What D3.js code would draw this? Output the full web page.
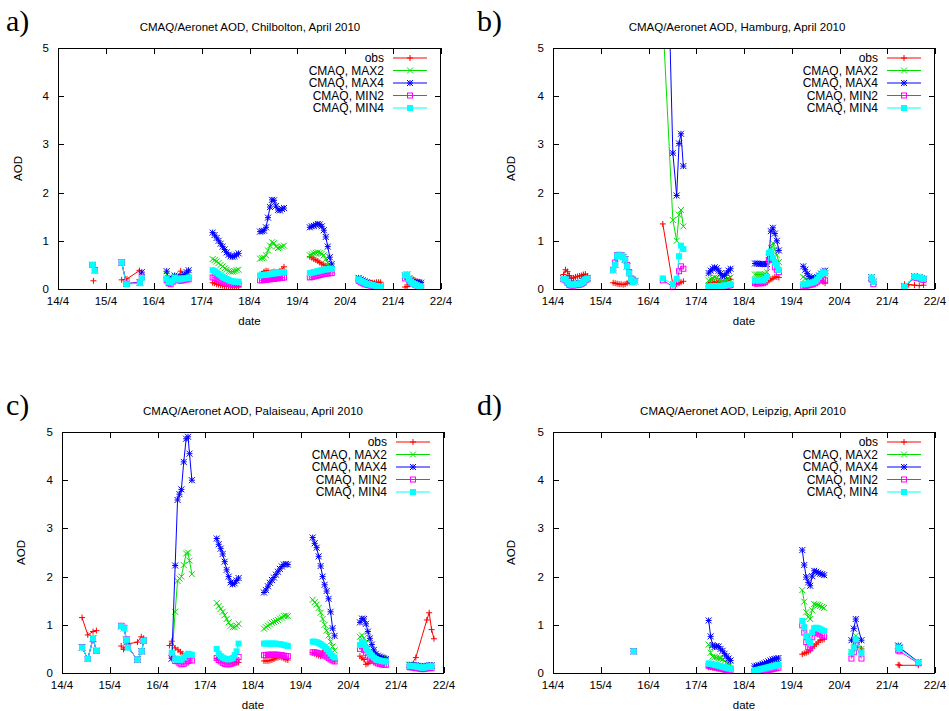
<!DOCTYPE html>
<html>
<head>
<meta charset="utf-8">
<script src="https://cdn.jsdelivr.net/npm/d3@7"></script>
<style>
  body { margin: 0; background: #fff; }
  svg { display: block; font-family: "Liberation Sans", Arial, sans-serif; }
</style>
</head>
<body>
<svg id="chart" width="949" height="711"></svg>
<script>
// x axis runs over days of April 2010, y is AOD
const xTicks = [14, 15, 16, 17, 18, 19, 20, 21, 22];
const xTickLabels = ["14/4", "15/4", "16/4", "17/4", "18/4", "19/4", "20/4", "21/4", "22/4"];
const yTicks = [0, 1, 2, 3, 4, 5];
const seriesNames = ["obs", "CMAQ, MAX2", "CMAQ, MAX4", "CMAQ, MIN2", "CMAQ, MIN4"];
const seriesColors = ["#ff0000", "#00e000", "#0000ff", "#ff00ff", "#00ffff"];
const seriesMarkers = ["plus", "cross", "star", "square", "filledSquare"];
const stations = ["Chilbolton", "Hamburg", "Palaiseau", "Leipzig"];
const panelLabels = ["a)", "b)", "c)", "d)"];

// a segment is either [startDay, [hourly values]] or [[days], [values]]
const HOUR = 1 / 24;

// ---- Chilbolton ----
const chilboltonObs = [
  [[14.74], [0.17]],
  [[15.33, 15.44, 15.7], [0.19, 0.21, 0.38]],
  [16.27, [0.26, 0.22, 0.2, 0.25, 0.27, 0.25, 0.26, 0.37, 0.3, 0.25, 0.24, 0.22]],
  [17.23, [0.13, 0.12, 0.1, 0.09, 0.08, 0.07, 0.06, 0.06, 0.05, 0.05, 0.05, 0.05, 0.05, 0.05]],
  [18.22, [0.3, 0.32, 0.36, 0.38, 0.37, 0.34, 0.35, 0.36, 0.35, 0.35, 0.37, 0.41, 0.46]],
  [19.26, [0.67, 0.65, 0.62, 0.6, 0.58, 0.55, 0.52, 0.5, 0.48, 0.47, 0.47, 0.46]],
  [20.28, [0.2, 0.18, 0.16, 0.15, 0.14, 0.13, 0.13, 0.13, 0.13, 0.14, 0.14, 0.14]],
  [21.25, [0.04, 0.05, 0.1, 0.15, 0.2, 0.18, 0.16, 0.15, 0.14]]
];
const chilboltonMax2 = [
  [[14.72, 14.77], [0.5, 0.39]],
  [[15.33, 15.43, 15.71, 15.75], [0.55, 0.11, 0.13, 0.26]],
  [16.27, [0.3, 0.2, 0.17, 0.2, 0.25, 0.24, 0.23, 0.22, 0.24, 0.27, 0.3, 0.33]],
  [17.23, [0.62, 0.6, 0.57, 0.54, 0.5, 0.47, 0.43, 0.4, 0.37, 0.36, 0.36, 0.37, 0.39, 0.4]],
  [18.22, [0.63, 0.64, 0.65, 0.7, 0.8, 0.9, 0.97, 0.95, 0.88, 0.85, 0.86, 0.88, 0.9]],
  [19.26, [0.7, 0.72, 0.74, 0.75, 0.76, 0.75, 0.73, 0.7, 0.62, 0.55, 0.45, 0.38]],
  [20.28, [0.21, 0.18, 0.16, 0.14, 0.12, 0.11, 0.1, 0.09, 0.08, 0.07, 0.06, 0.05]],
  [21.25, [0.27, 0.29, 0.2, 0.16, 0.13, 0.12, 0.11, 0.1, 0.09]]
];
const chilboltonMax4 = [
  [[14.72, 14.77], [0.5, 0.39]],
  [[15.33, 15.43, 15.71, 15.75], [0.55, 0.11, 0.14, 0.35]],
  [16.27, [0.37, 0.22, 0.18, 0.22, 0.28, 0.25, 0.24, 0.22, 0.25, 0.3, 0.35, 0.39]],
  [17.23, [1.17, 1.12, 1.06, 1.0, 0.94, 0.88, 0.82, 0.76, 0.71, 0.68, 0.67, 0.68, 0.71, 0.74]],
  [18.22, [1.19, 1.2, 1.21, 1.28, 1.48, 1.7, 1.85, 1.84, 1.72, 1.64, 1.63, 1.66, 1.68]],
  [19.26, [1.28, 1.3, 1.31, 1.33, 1.35, 1.34, 1.3, 1.22, 1.08, 0.88, 0.66, 0.52]],
  [20.28, [0.23, 0.2, 0.18, 0.16, 0.14, 0.12, 0.1, 0.09, 0.08, 0.07, 0.06, 0.05]],
  [21.25, [0.28, 0.3, 0.22, 0.18, 0.15, 0.14, 0.14, 0.13, 0.13]]
];
const chilboltonMin2 = [
  [[14.72, 14.77], [0.5, 0.39]],
  [[15.33, 15.43, 15.71, 15.75], [0.55, 0.11, 0.13, 0.24]],
  [16.27, [0.18, 0.12, 0.1, 0.15, 0.2, 0.2, 0.18, 0.17, 0.18, 0.19, 0.2, 0.2]],
  [17.23, [0.24, 0.23, 0.21, 0.19, 0.17, 0.15, 0.13, 0.12, 0.11, 0.1, 0.09, 0.09, 0.09, 0.09]],
  [18.22, [0.18, 0.18, 0.19, 0.19, 0.2, 0.2, 0.21, 0.21, 0.22, 0.22, 0.23, 0.23, 0.24]],
  [19.26, [0.24, 0.25, 0.26, 0.27, 0.28, 0.29, 0.3, 0.31, 0.32, 0.32, 0.33, 0.33]],
  [20.28, [0.17, 0.14, 0.12, 0.1, 0.09, 0.08, 0.07, 0.06, 0.05, 0.05, 0.04, 0.04]],
  [21.25, [0.22, 0.25, 0.18, 0.14, 0.11, 0.09, 0.07, 0.05, 0.04]]
];
const chilboltonMin4 = [
  [[14.72, 14.77], [0.5, 0.38]],
  [[15.33, 15.43, 15.71, 15.75], [0.55, 0.1, 0.12, 0.23]],
  [16.27, [0.22, 0.15, 0.14, 0.18, 0.24, 0.22, 0.2, 0.2, 0.22, 0.22, 0.22, 0.24]],
  [17.23, [0.39, 0.37, 0.34, 0.31, 0.28, 0.25, 0.23, 0.21, 0.19, 0.17, 0.16, 0.15, 0.15, 0.15]],
  [18.22, [0.28, 0.29, 0.29, 0.3, 0.3, 0.31, 0.32, 0.32, 0.33, 0.33, 0.34, 0.34, 0.35]],
  [19.26, [0.33, 0.34, 0.35, 0.36, 0.37, 0.38, 0.39, 0.4, 0.41, 0.41, 0.42, 0.42]],
  [20.28, [0.2, 0.17, 0.15, 0.13, 0.11, 0.1, 0.09, 0.08, 0.07, 0.06, 0.05, 0.05]],
  [21.25, [0.28, 0.3, 0.2, 0.15, 0.12, 0.1, 0.08, 0.06, 0.05]]
];

// ---- Hamburg ----
const hamburgObs = [
  [14.22, [0.3, 0.4, 0.36, 0.28, 0.22, 0.23, 0.25, 0.26, 0.27, 0.28, 0.3, 0.31, 0.27]],
  [15.26, [0.13, 0.12, 0.11, 0.1, 0.1, 0.09, 0.1, 0.12, 0.15, 0.18, 0.2, 0.2]],
  [[16.3, 16.51, 16.59, 16.64, 16.68, 16.73], [1.35, 0.09, 0.1, 0.12, 0.14, 0.16]],
  [17.26, [0.12, 0.13, 0.14, 0.15, 0.15, 0.14, 0.13, 0.13, 0.15, 0.17, 0.18, 0.2]],
  [18.23, [0.1, 0.1, 0.11, 0.12, 0.13, 0.14, 0.15, 0.17, 0.2, 0.22, 0.25, 0.25, 0.24]],
  [19.24, [0.08, 0.08, 0.09, 0.1, 0.11, 0.12, 0.14, 0.16, 0.18, 0.17, 0.15, 0.12]],
  [[21.36, 21.45, 21.57, 21.67, 21.76], [0.1, 0.09, 0.08, 0.07, 0.08]]
];
const hamburgMax2 = [
  [14.22, [0.22, 0.21, 0.16, 0.11, 0.1, 0.1, 0.11, 0.11, 0.12, 0.13, 0.16, 0.21, 0.23]],
  [15.26, [0.39, 0.5, 0.68, 0.7, 0.69, 0.66, 0.61, 0.47, 0.33, 0.2, 0.14, 0.16]],
  [[16.3, 16.51, 16.59, 16.64, 16.68, 16.73], [5.6, 1.43, 1.0, 1.54, 1.64, 1.3]],
  [17.26, [0.18, 0.2, 0.22, 0.24, 0.23, 0.2, 0.18, 0.16, 0.17, 0.2, 0.22, 0.24]],
  [18.23, [0.3, 0.3, 0.3, 0.3, 0.3, 0.31, 0.35, 0.6, 0.85, 0.95, 0.82, 0.7, 0.56]],
  [19.24, [0.25, 0.22, 0.19, 0.17, 0.16, 0.16, 0.17, 0.19, 0.22, 0.27, 0.3, 0.32]],
  [[20.67, 20.71], [0.24, 0.15]],
  [[21.36, 21.57, 21.62, 21.67, 21.72, 21.76], [0.05, 0.26, 0.25, 0.24, 0.22, 0.21]]
];
const hamburgMax4 = [
  [14.22, [0.22, 0.21, 0.16, 0.11, 0.1, 0.1, 0.11, 0.11, 0.12, 0.13, 0.16, 0.21, 0.23]],
  [15.26, [0.39, 0.5, 0.68, 0.7, 0.69, 0.66, 0.61, 0.47, 0.33, 0.2, 0.14, 0.16]],
  [[16.3, 16.51, 16.59, 16.64, 16.68, 16.73], [11, 2.82, 1.94, 3.02, 3.22, 2.55]],
  [17.26, [0.33, 0.38, 0.42, 0.45, 0.43, 0.38, 0.32, 0.27, 0.28, 0.33, 0.38, 0.42]],
  [18.23, [0.53, 0.53, 0.52, 0.52, 0.52, 0.51, 0.52, 0.65, 1.2, 1.27, 1.15, 1.0, 0.8]],
  [19.24, [0.47, 0.4, 0.32, 0.26, 0.23, 0.22, 0.23, 0.25, 0.28, 0.32, 0.36, 0.38]],
  [[20.67, 20.71], [0.24, 0.15]],
  [[21.36, 21.57, 21.62, 21.67, 21.72, 21.76], [0.05, 0.26, 0.25, 0.24, 0.22, 0.21]]
];
const hamburgMin2 = [
  [14.22, [0.2, 0.18, 0.13, 0.08, 0.07, 0.07, 0.08, 0.08, 0.09, 0.1, 0.13, 0.18, 0.2]],
  [15.26, [0.4, 0.55, 0.7, 0.71, 0.7, 0.67, 0.62, 0.5, 0.35, 0.22, 0.15, 0.17]],
  [[16.3, 16.51, 16.59, 16.64, 16.68, 16.73], [0.18, 0.05, 0.14, 0.37, 0.47, 0.42]],
  [17.26, [0.03, 0.03, 0.04, 0.04, 0.04, 0.04, 0.04, 0.05, 0.05, 0.06, 0.07, 0.08]],
  [18.23, [0.12, 0.12, 0.12, 0.12, 0.12, 0.14, 0.2, 0.6, 0.7, 0.6, 0.45, 0.4, 0.35]],
  [19.24, [0.05, 0.06, 0.07, 0.08, 0.09, 0.1, 0.12, 0.15, 0.18, 0.2, 0.2, 0.18]],
  [[20.67, 20.71], [0.2, 0.1]],
  [[21.36, 21.57, 21.62, 21.67, 21.72, 21.76], [0.04, 0.24, 0.23, 0.22, 0.2, 0.19]]
];
const hamburgMin4 = [
  [14.22, [0.21, 0.2, 0.15, 0.1, 0.09, 0.09, 0.1, 0.1, 0.11, 0.12, 0.15, 0.2, 0.22]],
  [15.26, [0.39, 0.5, 0.68, 0.7, 0.69, 0.66, 0.61, 0.47, 0.33, 0.2, 0.14, 0.16]],
  [[16.3, 16.51, 16.59, 16.64, 16.68, 16.73], [0.22, 0.1, 0.21, 0.68, 0.9, 0.83]],
  [17.26, [0.05, 0.05, 0.06, 0.06, 0.06, 0.06, 0.06, 0.07, 0.07, 0.08, 0.09, 0.1]],
  [18.23, [0.18, 0.18, 0.18, 0.18, 0.18, 0.2, 0.25, 0.75, 0.78, 0.65, 0.55, 0.5, 0.4]],
  [19.24, [0.1, 0.1, 0.11, 0.12, 0.13, 0.14, 0.16, 0.2, 0.25, 0.3, 0.35, 0.33]],
  [[20.67, 20.71], [0.24, 0.15]],
  [[21.36, 21.57, 21.62, 21.67, 21.72, 21.76], [0.05, 0.26, 0.25, 0.24, 0.22, 0.21]]
];

// ---- Palaiseau ----
const palaiseauObs = [
  [[14.42, 14.54, 14.65, 14.72], [1.15, 0.79, 0.86, 0.88]],
  [[15.24, 15.29, 15.35, 15.58, 15.66, 15.71], [0.56, 0.49, 0.6, 0.64, 0.75, 0.72]],
  [[16.25, 16.3, 16.37, 16.43, 16.48, 16.53], [0.57, 0.66, 0.52, 0.48, 0.44, 0.4]],
  [17.24, [0.3, 0.28, 0.26, 0.25, 0.24, 0.24, 0.24, 0.23, 0.22, 0.22, 0.22, 0.22]],
  [18.23, [0.25, 0.25, 0.25, 0.26, 0.27, 0.29, 0.31, 0.32, 0.33, 0.32, 0.3, 0.28, 0.27]],
  [19.25, [0.42, 0.4, 0.38, 0.36, 0.35, 0.42, 0.55, 0.5, 0.4, 0.33, 0.28, 0.25]],
  [20.24, [0.35, 0.31, 0.28, 0.18, 0.2, 0.23, 0.26, 0.28, 0.29, 0.3, 0.31, 0.32, 0.32, 0.31]],
  [[21.28, 21.41, 21.64, 21.69, 21.74, 21.79], [0.12, 0.32, 1.1, 1.25, 0.9, 0.71]]
];
const palaiseauMax2 = [
  [[14.42, 14.54, 14.65, 14.72], [0.53, 0.29, 0.72, 0.46]],
  [[15.24, 15.3, 15.35, 15.38, 15.58, 15.67, 15.71], [0.97, 0.93, 0.69, 0.53, 0.28, 0.45, 0.67]],
  [[16.3, 16.37, 16.42, 16.46, 16.5, 16.55, 16.6, 16.64, 16.67, 16.72], [0.3, 1.27, 1.91, 1.96, 2.0, 2.24, 2.48, 2.5, 2.33, 2.05]],
  [17.24, [1.45, 1.39, 1.33, 1.27, 1.2, 1.12, 1.05, 0.98, 0.95, 0.95, 0.98, 1.02]],
  [18.23, [0.92, 0.95, 0.98, 1.01, 1.04, 1.06, 1.08, 1.1, 1.13, 1.15, 1.18, 1.19, 1.18]],
  [19.25, [1.52, 1.47, 1.42, 1.35, 1.25, 1.12, 1.0, 0.88, 0.78, 0.65, 0.55, 0.47]],
  [20.24, [0.75, 0.78, 0.72, 0.62, 0.52, 0.45, 0.4, 0.36, 0.33, 0.31, 0.3, 0.29, 0.28, 0.27]],
  [21.28, [0.16, 0.16, 0.15, 0.15, 0.14, 0.13, 0.12, 0.12, 0.13, 0.14, 0.15, 0.15]]
];
const palaiseauMax4 = [
  [[14.42, 14.54, 14.65, 14.72], [0.53, 0.29, 0.72, 0.46]],
  [[15.24, 15.3, 15.35, 15.38, 15.58, 15.67, 15.71], [0.97, 0.93, 0.69, 0.53, 0.28, 0.45, 0.67]],
  [[16.3, 16.37, 16.42, 16.46, 16.5, 16.55, 16.6, 16.64, 16.67, 16.72], [0.3, 2.23, 3.59, 3.71, 3.81, 4.38, 4.86, 4.9, 4.55, 4.0]],
  [17.24, [2.79, 2.67, 2.58, 2.47, 2.31, 2.14, 2.0, 1.88, 1.84, 1.86, 1.92, 1.97]],
  [18.23, [1.67, 1.72, 1.8, 1.87, 1.93, 1.98, 2.04, 2.1, 2.16, 2.21, 2.25, 2.26, 2.25]],
  [19.25, [2.81, 2.69, 2.6, 2.42, 2.22, 2.0, 1.83, 1.7, 1.54, 1.27, 0.93, 0.77]],
  [20.24, [1.05, 1.13, 1.12, 1.02, 0.86, 0.72, 0.59, 0.48, 0.4, 0.36, 0.34, 0.32, 0.3, 0.29]],
  [21.28, [0.17, 0.17, 0.16, 0.16, 0.15, 0.14, 0.13, 0.13, 0.14, 0.15, 0.16, 0.16]]
];
const palaiseauMin2 = [
  [[14.42, 14.54, 14.65, 14.72], [0.54, 0.29, 0.7, 0.46]],
  [[15.24, 15.3, 15.35, 15.38, 15.58, 15.67, 15.71], [0.98, 0.94, 0.7, 0.54, 0.28, 0.45, 0.67]],
  [[16.3, 16.37, 16.42, 16.46, 16.5, 16.55, 16.6, 16.64, 16.67, 16.72], [0.36, 0.25, 0.24, 0.2, 0.18, 0.19, 0.22, 0.25, 0.26, 0.26]],
  [17.24, [0.31, 0.27, 0.24, 0.21, 0.19, 0.18, 0.18, 0.19, 0.2, 0.22, 0.26, 0.33]],
  [18.23, [0.37, 0.37, 0.38, 0.38, 0.38, 0.38, 0.38, 0.38, 0.37, 0.37, 0.36, 0.35, 0.35]],
  [19.25, [0.43, 0.43, 0.42, 0.41, 0.4, 0.38, 0.36, 0.34, 0.31, 0.28, 0.26, 0.24]],
  [20.24, [0.5, 0.55, 0.48, 0.42, 0.36, 0.32, 0.28, 0.25, 0.22, 0.2, 0.19, 0.18, 0.17, 0.17]],
  [21.28, [0.12, 0.12, 0.11, 0.1, 0.1, 0.09, 0.08, 0.08, 0.09, 0.1, 0.1, 0.1]]
];
const palaiseauMin4 = [
  [[14.42, 14.54, 14.65, 14.72], [0.53, 0.29, 0.72, 0.46]],
  [[15.24, 15.3, 15.35, 15.38, 15.58, 15.67, 15.71], [0.97, 0.93, 0.69, 0.53, 0.28, 0.45, 0.67]],
  [[16.3, 16.37, 16.42, 16.46, 16.5, 16.55, 16.6, 16.64, 16.67, 16.72], [0.42, 0.28, 0.3, 0.27, 0.28, 0.32, 0.37, 0.4, 0.39, 0.38]],
  [17.24, [0.5, 0.4, 0.35, 0.32, 0.3, 0.29, 0.28, 0.29, 0.31, 0.37, 0.45, 0.61]],
  [18.23, [0.61, 0.61, 0.61, 0.61, 0.61, 0.61, 0.61, 0.6, 0.6, 0.59, 0.58, 0.57, 0.56]],
  [19.25, [0.65, 0.65, 0.64, 0.62, 0.6, 0.57, 0.54, 0.5, 0.45, 0.4, 0.35, 0.32]],
  [20.24, [0.58, 0.65, 0.6, 0.52, 0.45, 0.4, 0.36, 0.32, 0.29, 0.27, 0.26, 0.25, 0.24, 0.24]],
  [21.28, [0.15, 0.15, 0.14, 0.14, 0.13, 0.12, 0.11, 0.11, 0.12, 0.13, 0.14, 0.14]]
];

// ---- Leipzig ----
const leipzigObs = [
  [17.26, [0.12, 0.12, 0.11, 0.11, 0.1, 0.1, 0.1, 0.1, 0.11, 0.12, 0.13, 0.14]],
  [18.22, [0.08, 0.08, 0.09, 0.1, 0.11, 0.12, 0.13, 0.14, 0.15, 0.16, 0.17, 0.18, 0.19]],
  [19.22, [0.39, 0.41, 0.42, 0.44, 0.47, 0.52, 0.56, 0.6, 0.64, 0.68, 0.69, 0.7]],
  [[20.25, 20.3, 20.34, 20.46], [0.4, 0.48, 0.56, 0.5]],
  [[21.23, 21.26, 21.65], [0.17, 0.16, 0.16]]
];
const leipzigMax2 = [
  [[15.69], [0.45]],
  [17.26, [0.59, 0.42, 0.34, 0.33, 0.32, 0.31, 0.3, 0.28, 0.25, 0.22, 0.19, 0.17]],
  [18.22, [0.1, 0.11, 0.12, 0.13, 0.14, 0.15, 0.16, 0.17, 0.18, 0.19, 0.2, 0.21, 0.22]],
  [19.22, [1.72, 1.48, 1.26, 1.16, 1.12, 1.3, 1.43, 1.42, 1.41, 1.39, 1.37, 1.35]],
  [[20.25, 20.3, 20.34, 20.46], [0.44, 0.62, 0.77, 0.5]],
  [[21.23, 21.26, 21.65], [0.55, 0.52, 0.22]]
];
const leipzigMax4 = [
  [[15.69], [0.45]],
  [17.26, [1.09, 0.76, 0.58, 0.54, 0.56, 0.55, 0.5, 0.46, 0.4, 0.35, 0.3, 0.26]],
  [18.22, [0.14, 0.15, 0.16, 0.17, 0.19, 0.2, 0.22, 0.24, 0.26, 0.28, 0.29, 0.3, 0.31]],
  [19.22, [2.55, 2.24, 1.99, 1.88, 1.81, 2.01, 2.12, 2.1, 2.08, 2.06, 2.05, 2.03]],
  [[20.25, 20.3, 20.34, 20.46], [0.68, 0.92, 1.12, 0.68]],
  [[21.23, 21.26, 21.65], [0.57, 0.53, 0.23]]
];
const leipzigMin2 = [
  [[15.69], [0.45]],
  [17.26, [0.15, 0.14, 0.13, 0.12, 0.11, 0.1, 0.09, 0.08, 0.07, 0.06, 0.05, 0.05]],
  [18.22, [0.02, 0.03, 0.03, 0.04, 0.04, 0.05, 0.05, 0.06, 0.07, 0.08, 0.09, 0.1, 0.11]],
  [19.22, [0.99, 0.84, 0.64, 0.54, 0.51, 0.74, 0.84, 0.84, 0.82, 0.8, 0.78, 0.77]],
  [[20.25, 20.3, 20.34, 20.46], [0.3, 0.43, 0.58, 0.3]],
  [[21.23, 21.26, 21.65], [0.47, 0.45, 0.2]]
];
const leipzigMin4 = [
  [[15.69], [0.45]],
  [17.26, [0.2, 0.19, 0.18, 0.17, 0.16, 0.15, 0.14, 0.13, 0.12, 0.11, 0.1, 0.1]],
  [18.22, [0.05, 0.06, 0.07, 0.08, 0.09, 0.1, 0.11, 0.12, 0.13, 0.14, 0.15, 0.16, 0.17]],
  [19.22, [1.08, 0.95, 0.77, 0.68, 0.62, 0.84, 0.93, 0.94, 0.93, 0.91, 0.89, 0.87]],
  [[20.25, 20.3, 20.34, 20.46], [0.42, 0.53, 0.7, 0.41]],
  [[21.23, 21.26, 21.65], [0.53, 0.5, 0.22]]
];

const stationSeries = [
  [chilboltonObs, chilboltonMax2, chilboltonMax4, chilboltonMin2, chilboltonMin4],
  [hamburgObs, hamburgMax2, hamburgMax4, hamburgMin2, hamburgMin4],
  [palaiseauObs, palaiseauMax2, palaiseauMax4, palaiseauMin2, palaiseauMin4],
  [leipzigObs, leipzigMax2, leipzigMax4, leipzigMin2, leipzigMin4]
];

// panel geometry on the page
const layout = [
  { left: 58, right: 441, top: 48, bottom: 289, titleX: 250, labelX: 6, labelY: 31, yLabelX: 22 },
  { left: 553, right: 935, top: 48, bottom: 289, titleX: 737, labelX: 477, labelY: 31, yLabelX: 515 },
  { left: 62, right: 444, top: 432, bottom: 673, titleX: 253, labelX: 6, labelY: 415, yLabelX: 25 },
  { left: 553, right: 935, top: 432, bottom: 673, titleX: 743, labelX: 477, labelY: 415, yLabelX: 515 }
];

function expand(seg) {
  if (Array.isArray(seg[0])) return seg[0].map((t, i) => ({ t, v: seg[1][i] }));
  return seg[1].map((v, i) => ({ t: seg[0] + i * HOUR, v }));
}

function drawMarker(g, type, x, y, color) {
  const s = 3;
  if (type === "plus" || type === "star") {
    g.append("path").attr("d", `M${x - s},${y}H${x + s}M${x},${y - s}V${y + s}`)
      .attr("stroke", color).attr("stroke-width", 1).attr("fill", "none");
  }
  if (type === "cross" || type === "star") {
    g.append("path").attr("d", `M${x - s},${y - s}L${x + s},${y + s}M${x - s},${y + s}L${x + s},${y - s}`)
      .attr("stroke", color).attr("stroke-width", 1).attr("fill", "none");
  }
  if (type === "square") {
    g.append("rect").attr("x", x - 2.5).attr("y", y - 2.5).attr("width", 5).attr("height", 5)
      .attr("stroke", color).attr("stroke-width", 1).attr("fill", "none");
  }
  if (type === "filledSquare") {
    g.append("rect").attr("x", x - 3).attr("y", y - 3).attr("width", 6).attr("height", 6)
      .attr("fill", color);
  }
}

const svg = d3.select("#chart");

stations.forEach((station, p) => {
  const L = layout[p];
  const x = d3.scaleLinear().domain([14, 22]).range([L.left, L.right]);
  const y = d3.scaleLinear().domain([0, 5]).range([L.bottom, L.top]);
  const g = svg.append("g");

  // panel tag, title, axis labels
  g.append("text").attr("x", L.labelX).attr("y", L.labelY)
    .attr("font-family", "'Liberation Serif', 'Times New Roman', serif").attr("font-size", 30)
    .text(panelLabels[p]);
  g.append("text").attr("x", L.titleX).attr("y", L.top - 17).attr("text-anchor", "middle")
    .attr("font-size", 11.5).text(`CMAQ/Aeronet AOD, ${station}, April 2010`);
  g.append("text").attr("x", (L.left + L.right) / 2).attr("y", L.bottom + 36).attr("text-anchor", "middle")
    .attr("font-size", 11.5).text("date");
  g.append("text").attr("transform", `translate(${L.yLabelX},${(L.top + L.bottom) / 2}) rotate(-90)`)
    .attr("text-anchor", "middle").attr("font-size", 11.5).text("AOD");

  // axes with mirrored inward ticks
  const tick = 6;
  const axisG = g.append("g").attr("stroke", "#000").attr("stroke-width", 1);
  xTicks.forEach((d, i) => {
    const px = Math.round(x(d)) + 0.5;
    axisG.append("line").attr("x1", px).attr("x2", px).attr("y1", L.bottom).attr("y2", L.bottom - tick);
    axisG.append("line").attr("x1", px).attr("x2", px).attr("y1", L.top).attr("y2", L.top + tick);
    g.append("text").attr("x", x(d)).attr("y", L.bottom + 16).attr("text-anchor", "middle")
      .attr("font-size", 11.5).text(xTickLabels[i]);
  });
  yTicks.forEach(d => {
    const py = Math.round(y(d)) + 0.5;
    axisG.append("line").attr("x1", L.left).attr("x2", L.left + tick).attr("y1", py).attr("y2", py);
    axisG.append("line").attr("x1", L.right).attr("x2", L.right - tick).attr("y1", py).attr("y2", py);
    g.append("text").attr("x", L.left - 9).attr("y", y(d)).attr("dy", "0.35em").attr("text-anchor", "end")
      .attr("font-size", 11.5).text(d);
  });

  // legend
  const legX = L.right - 57;
  seriesNames.forEach((name, s) => {
    const ly = L.top + 10 + s * 12.5;
    g.append("text").attr("x", legX).attr("y", ly).attr("dy", "0.35em").attr("text-anchor", "end")
      .attr("font-size", 12).text(name);
    g.append("line").attr("x1", legX + 9).attr("x2", legX + 43).attr("y1", ly).attr("y2", ly)
      .attr("stroke", seriesColors[s]).attr("stroke-width", 1);
    drawMarker(g, seriesMarkers[s], legX + 26, ly, seriesColors[s]);
  });

  // data, clipped to the plot frame
  const clipId = `clip${p}`;
  svg.append("clipPath").attr("id", clipId).append("rect")
    .attr("x", L.left).attr("y", L.top).attr("width", L.right - L.left).attr("height", L.bottom - L.top);
  const plot = g.append("g").attr("clip-path", `url(#${clipId})`);
  const line = d3.line().x(d => x(d.t)).y(d => y(d.v));

  stationSeries[p].forEach((series, s) => {
    const sg = plot.append("g");
    series.forEach(seg => {
      const pts = expand(seg);
      if (pts.length > 1) {
        sg.append("path").attr("d", line(pts)).attr("fill", "none")
          .attr("stroke", seriesColors[s]).attr("stroke-width", 1);
      }
      pts.forEach(d => drawMarker(sg, seriesMarkers[s], x(d.t), y(d.v), seriesColors[s]));
    });
  });

  g.append("rect").attr("x", L.left + 0.5).attr("y", L.top + 0.5)
    .attr("width", L.right - L.left - 1).attr("height", L.bottom - L.top)
    .attr("fill", "none").attr("stroke", "#000").attr("stroke-width", 1);
});
</script>
</body>
</html>
